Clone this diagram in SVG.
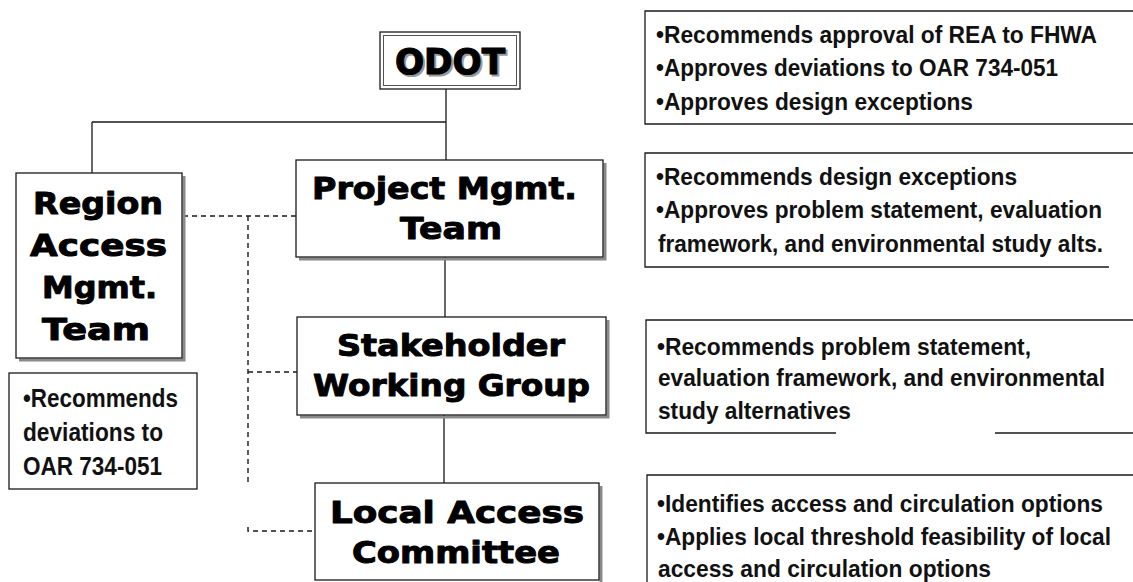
<svg xmlns="http://www.w3.org/2000/svg" width="1133" height="582" viewBox="0 0 1133 582">
<style>
.box{fill:#fff;stroke:#1a1a1a;stroke-width:1.3}
.shadow{fill:none;stroke:#8a8a8a;stroke-width:3}
.line{fill:none;stroke:#1a1a1a;stroke-width:1.3}
.dash{fill:none;stroke:#1a1a1a;stroke-width:1.4;stroke-dasharray:5 4}
.big{font-family:"DejaVu Sans","Liberation Sans",sans-serif;font-weight:bold;font-size:31px;fill:#000;stroke:#000;stroke-width:1;stroke-linejoin:round}
.note{font-family:"Liberation Sans",Arial,sans-serif;font-weight:bold;font-size:23.5px;fill:#111}
.note2{font-family:"Liberation Sans",Arial,sans-serif;font-weight:bold;font-size:25.5px;fill:#111}
</style>
<rect width="1133" height="582" fill="#fff"/>
<g id="connectors">
<path class="line" d="M446 89V160M92 122H446M92 122V173M445 257V317M444 415V483"/>
<path class="dash" d="M183 216H296M248 216V486M248 372H297M248 527V531H315"/>
</g>
<g id="odot">
<rect class="box" x="380" y="32" width="140" height="57"/>
<rect fill="none" stroke="#555" stroke-width="1" x="383.5" y="35.5" width="133" height="50"/>
<text x="397" y="76" font-family="DejaVu Sans,sans-serif" font-weight="bold" font-size="36" fill="#999" stroke="#999" stroke-width="1.2" textLength="110" lengthAdjust="spacingAndGlyphs">ODOT</text>
<text x="395" y="74" font-family="DejaVu Sans,sans-serif" font-weight="bold" font-size="36" fill="#000" stroke="#000" stroke-width="1.2" textLength="110" lengthAdjust="spacingAndGlyphs">ODOT</text>
</g>
<g id="region-team">
<path class="shadow" d="M184 176V360H19"/>
<rect class="box" x="16" y="173" width="166" height="185"/>
<text class="big" x="33" y="214" textLength="130" lengthAdjust="spacingAndGlyphs">Region</text>
<text class="big" x="30" y="256" textLength="137" lengthAdjust="spacingAndGlyphs">Access</text>
<text class="big" x="42" y="298" textLength="115" lengthAdjust="spacingAndGlyphs">Mgmt.</text>
<text class="big" x="42" y="340" textLength="108" lengthAdjust="spacingAndGlyphs">Team</text>
</g>
<g id="region-notes">
<rect class="box" x="9" y="373" width="188" height="116"/>
<text class="note2" x="23" y="407" textLength="155" lengthAdjust="spacingAndGlyphs">•Recommends</text>
<text class="note2" x="23" y="441" textLength="140" lengthAdjust="spacingAndGlyphs">deviations to</text>
<text class="note2" x="23" y="475" textLength="139" lengthAdjust="spacingAndGlyphs">OAR 734-051</text>
</g>
<g id="project-mgmt-team">
<path class="shadow" d="M605 163V259H299"/>
<rect class="box" x="296" y="160" width="307" height="97"/>
<text class="big" x="312" y="199" textLength="265" lengthAdjust="spacingAndGlyphs">Project Mgmt.</text>
<text class="big" x="400" y="239" textLength="102" lengthAdjust="spacingAndGlyphs">Team</text>
</g>
<g id="stakeholder-working-group">
<path class="shadow" d="M608 320V417H300"/>
<rect class="box" x="297" y="317" width="309" height="98"/>
<text class="big" x="337" y="356" textLength="228" lengthAdjust="spacingAndGlyphs">Stakeholder</text>
<text class="big" x="313" y="396" textLength="277" lengthAdjust="spacingAndGlyphs">Working Group</text>
</g>
<g id="local-access-committee">
<path class="shadow" d="M601 486V582"/>
<rect class="box" x="315" y="483" width="284" height="97"/>
<text class="big" x="330" y="523" textLength="254" lengthAdjust="spacingAndGlyphs">Local Access</text>
<text class="big" x="352" y="563" textLength="208" lengthAdjust="spacingAndGlyphs">Committee</text>
</g>
<g id="odot-notes">
<path class="line" d="M1133 11H645V124H1133"/>
<text class="note" x="656" y="43" textLength="441" lengthAdjust="spacingAndGlyphs">•Recommends approval of REA to FHWA</text>
<text class="note" x="656" y="76" textLength="402" lengthAdjust="spacingAndGlyphs">•Approves deviations to OAR 734-051</text>
<text class="note" x="656" y="110" textLength="317" lengthAdjust="spacingAndGlyphs">•Approves design exceptions</text>
</g>
<g id="pmt-notes">
<path class="line" d="M1133 153H645V267H1109"/>
<text class="note" x="656" y="185" textLength="361" lengthAdjust="spacingAndGlyphs">•Recommends design exceptions</text>
<text class="note" x="656" y="218" textLength="446" lengthAdjust="spacingAndGlyphs">•Approves problem statement, evaluation</text>
<text class="note" x="658" y="252" textLength="445" lengthAdjust="spacingAndGlyphs">framework, and environmental study alts.</text>
</g>
<g id="swg-notes">
<path class="line" d="M1133 320H646V433H836M995 433H1133"/>
<text class="note" x="657" y="355" textLength="374" lengthAdjust="spacingAndGlyphs">•Recommends problem statement,</text>
<text class="note" x="658" y="386" textLength="447" lengthAdjust="spacingAndGlyphs">evaluation framework, and environmental</text>
<text class="note" x="658" y="419" textLength="193" lengthAdjust="spacingAndGlyphs">study alternatives</text>
</g>
<g id="lac-notes">
<path class="line" d="M1133 475H647V582"/>
<text class="note" x="657" y="512" textLength="446" lengthAdjust="spacingAndGlyphs">•Identifies access and circulation options</text>
<text class="note" x="657" y="545" textLength="454" lengthAdjust="spacingAndGlyphs">•Applies local threshold feasibility of local</text>
<text class="note" x="658" y="577" textLength="333" lengthAdjust="spacingAndGlyphs">access and circulation options</text>
</g>
</svg>
